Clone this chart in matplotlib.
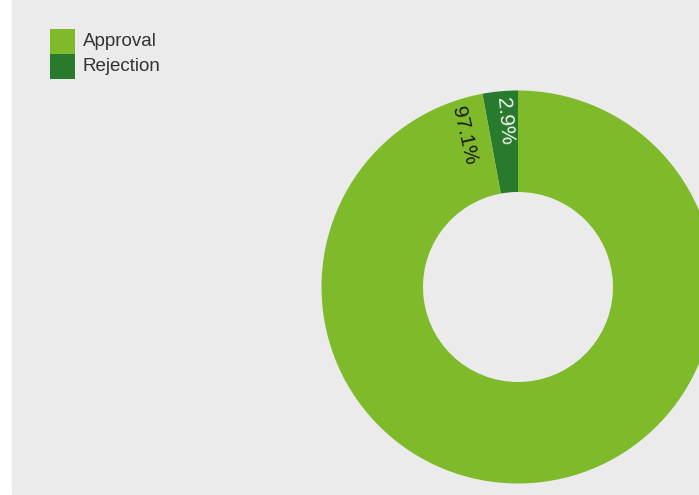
import numpy as np
import matplotlib.pyplot as plt
from matplotlib.patches import Rectangle

# Decision shares (percent)
categories = ['Approval', 'Rejection']
shares = [97.1, 2.9]
colors = ['#7fba2a', '#287b2c']
label_colors = ['#1a1a1a', '#f2f2f2']

plt.rcParams['font.family'] = ['Liberation Sans', 'DejaVu Sans']

fig = plt.figure(figsize=(6.99, 4.95), dpi=100)
ax = fig.add_axes([0, 0, 1, 1])

# grey panel behind the chart
ax.add_patch(Rectangle((12, 1), 700, 500, color='#ebebeb', zorder=0))

# donut, rejection first so it sits just left of 12 o'clock
cx, cy, r_out, r_in = 518, 208, 196.5, 95
vals = shares[::-1]
wedges, _ = ax.pie(vals, colors=colors[::-1], startangle=90, counterclock=True,
                   center=(cx, cy), radius=r_out, frame=True,
                   wedgeprops=dict(width=r_out - r_in, linewidth=0))
ax.set_xlim(0, 699)
ax.set_ylim(0, 495)
ax.set_aspect('equal')
ax.axis('off')

# rotated percentage labels along the radius
rej_end = 90 + 360 * vals[0] / 100
label_spots = [
    (shares[0], rej_end + 9, 161, -77, label_colors[0]),
    (shares[1], 90 + 360 * vals[0] / 200 - 0.7, 166, -85, label_colors[1]),
]
for val, ang, rad, rot, col in label_spots:
    a = np.deg2rad(ang)
    x = cx + rad * np.cos(a)
    y = cy + rad * np.sin(a)
    ax.text(x, y, '{:.1f}%'.format(val), rotation=rot,
            rotation_mode='anchor', ha='center', va='center',
            fontsize=15, color=col)

# legend
for i, name in enumerate(categories):
    top = 495 - 29 - 25 * i
    ax.add_patch(Rectangle((50, top - 25), 24.5, 25, color=colors[i], linewidth=0))
    ax.text(83, top - 12.5, name, ha='left', va='center', fontsize=13.5,
            color='#333333')

fig.savefig('out.png', dpi=100)
